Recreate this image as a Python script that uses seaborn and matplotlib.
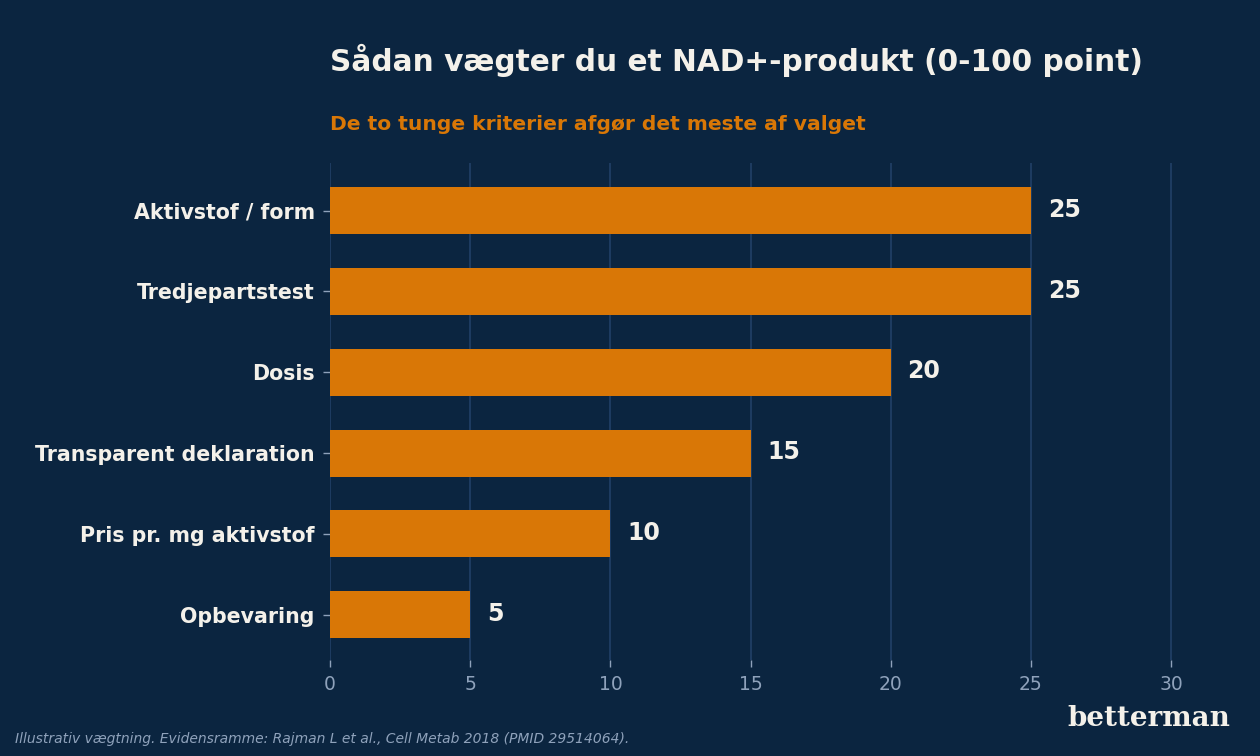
import pandas as pd
import seaborn as sns
import matplotlib.pyplot as plt

# data
criteria = ["Aktivstof / form", "Tredjepartstest", "Dosis",
            "Transparent deklaration", "Pris pr. mg aktivstof", "Opbevaring"]
points = [25, 25, 20, 15, 10, 5]

BG = "#0b2540"
ORANGE = "#d97706"
GRID = "#1f3e64"
TXT = "#f4f1ea"
MUTED = "#8fa2bb"


def main() -> None:
    df = pd.DataFrame({"Kriterium": criteria, "Point": points})

    sns.set_style("dark")
    plt.rcParams["font.family"] = ["DejaVu Sans"]

    fig = plt.figure(figsize=(12.6, 7.56), dpi=100, facecolor=BG)
    ax = fig.add_axes([330 / 1260, 96 / 756, 872 / 1260, 497 / 756])
    ax.set_facecolor(BG)

    sns.barplot(data=df, x="Point", y="Kriterium", color=ORANGE, width=0.58,
                saturation=1, linewidth=0, edgecolor="none", ax=ax, zorder=3)

    ax.set_xlim(0, 31.1)
    ax.set_ylim(len(criteria) - 0.44, -0.59)
    ax.set_xticks([0, 5, 10, 15, 20, 25, 30])
    ax.grid(axis="x", color=GRID, linewidth=1.3, zorder=0)
    ax.grid(axis="y", visible=False)
    for s in ax.spines.values():
        s.set_visible(False)

    ax.set_xlabel("")
    ax.set_ylabel("")
    ax.tick_params(axis="x", bottom=True, colors=MUTED, labelsize=13.5,
                   length=5, width=1, pad=6)
    ax.tick_params(axis="y", left=True, colors=MUTED, labelcolor=TXT,
                   labelsize=14.8, length=5, width=1, pad=6)
    for lab in ax.get_yticklabels():
        lab.set_fontweight("bold")

    for i, v in enumerate(points):
        ax.text(v + 0.6, i - 0.01, f"{v}", color=TXT, fontsize=17, fontweight="bold",
                va="center", ha="left", zorder=4)

    fig.text(330 / 1260, 1 - 60 / 756, "Sådan vægter du et NAD+-produkt (0-100 point)",
             color=TXT, fontsize=21.3, fontweight="bold", va="center", ha="left")
    fig.text(330 / 1260, 1 - 125 / 756, "De to tunge kriterier afgør det meste af valget",
             color=ORANGE, fontsize=14.6, fontweight="bold", va="center", ha="left")
    fig.text(15 / 1260, 1 - 739 / 756,
             "Illustrativ vægtning. Evidensramme: Rajman L et al., Cell Metab 2018 (PMID 29514064).",
             color=MUTED, fontsize=10, style="italic", va="center", ha="left")
    fig.text(1230 / 1260, 1 - 718 / 756, "betterman", color=TXT, fontsize=20,
             fontweight="bold", family="DejaVu Serif", va="center", ha="right")

    fig.savefig("out.png", dpi=100, facecolor=BG)


if __name__ == "__main__":
    main()
